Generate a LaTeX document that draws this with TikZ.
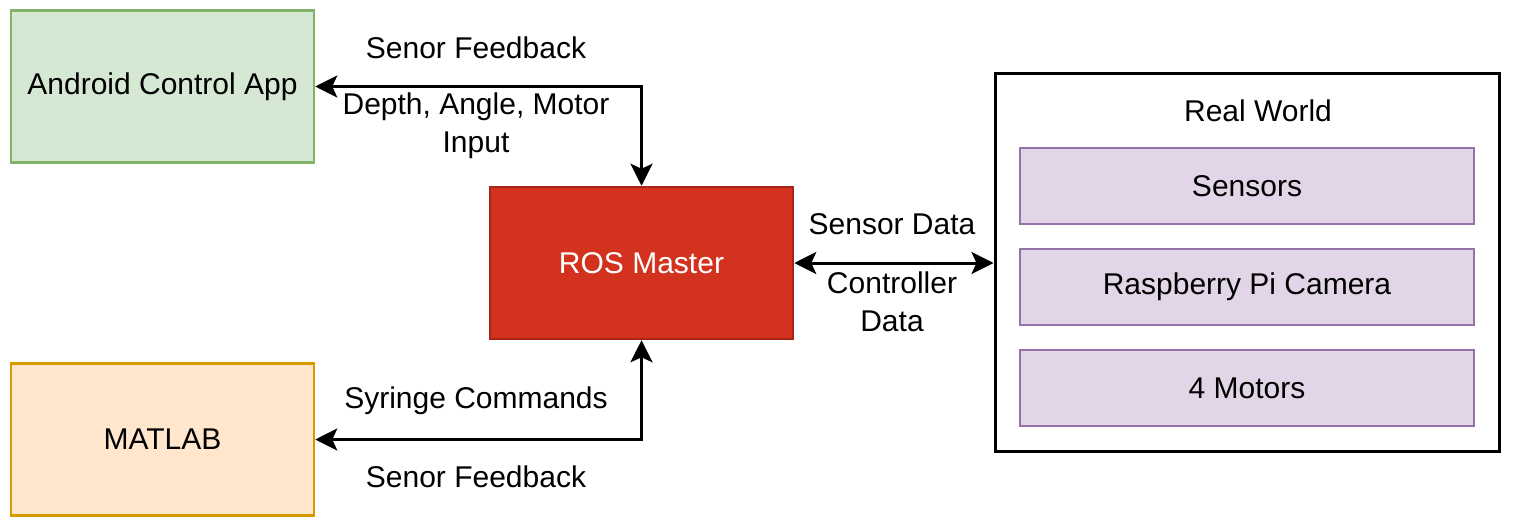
\documentclass[tikz,border=0pt]{standalone}
\usepackage{fontspec}
\setmainfont{Liberation Sans}
\usetikzlibrary{arrows.meta}
\definecolor{andfill}{HTML}{D5E8D4}
\definecolor{anddraw}{HTML}{82B366}
\definecolor{matfill}{HTML}{FFE6CC}
\definecolor{matdraw}{HTML}{D79B00}
\definecolor{rosfill}{HTML}{D2321E}
\definecolor{rosdraw}{HTML}{A8251A}
\definecolor{pufill}{HTML}{E1D5E7}
\definecolor{pudraw}{HTML}{9673A6}
\tikzset{
  every node/.style={font=\fontsize{30}{38}\selectfont, inner sep=0pt},
  bigbox/.style={draw, line width=2.5pt, minimum width=303pt, minimum height=152pt},
  subbox/.style={draw=pudraw, fill=pufill, line width=2.5pt, minimum width=454pt, minimum height=76pt},
  lbl/.style={align=center},
  link/.style={line width=3pt, {Stealth[length=22pt,width=22pt,inset=5pt]}-{Stealth[length=22pt,width=22pt,inset=5pt]}}
}
\begin{document}
\begin{tikzpicture}[x=1pt,y=-1pt]
\useasboundingbox (0,0) rectangle (1514,527);
\node[bigbox, draw=anddraw, fill=andfill] (android) at (162.5,86.5) {Android Control App};
\node[bigbox, draw=matdraw, fill=matfill] (matlab) at (162.5,439.5) {MATLAB};
\node[bigbox, draw=rosdraw, fill=rosfill, text=white] (ros) at (641.5,263) {ROS Master};
\node[draw, line width=3pt, fill=white, minimum width=504pt, minimum height=378pt] (rw) at (1247,262) {};
\node (rwlabel) at (1258,111) {Real World};
\node[subbox] (sensors) at (1247,186) {Sensors};
\node[subbox] (camera) at (1247,287) {Raspberry Pi Camera};
\node[subbox] (motors) at (1247,388) {4 Motors};
\draw[link] (android.east) -| (ros.north);
\draw[link] (matlab.east) -| (ros.south);
\draw[link] (ros.east) -- (ros.east -| rw.west);
\node[lbl] (l1) at (476,48) {Senor Feedback};
\node[lbl] (l2) at (476,126) {Depth, Angle, Motor\\Input};
\node[lbl] (l3) at (476,401) {Syringe Commands};
\node[lbl] (l4) at (476,477) {Senor Feedback};
\node[lbl] (l5) at (892,224) {Sensor Data};
\node[lbl] (l6) at (892,302) {Controller\\Data};
\end{tikzpicture}
\end{document}
